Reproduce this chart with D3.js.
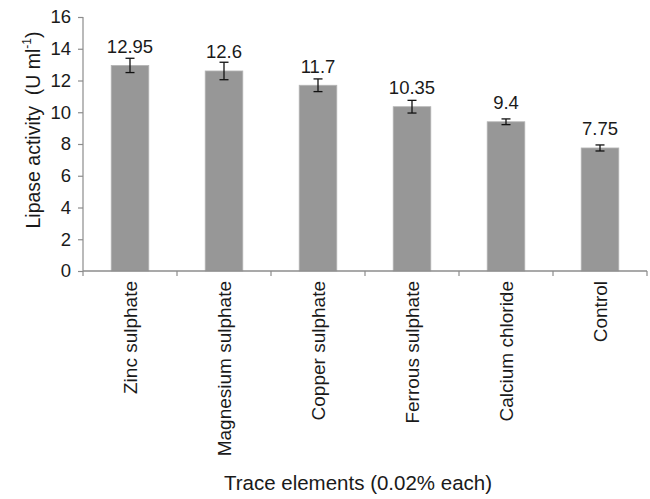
<!DOCTYPE html>
<html><head><meta charset="utf-8">
<script src="https://cdn.jsdelivr.net/npm/d3@7"></script>
<style>
body{margin:0;background:#fff;}
text{font-family:"Liberation Sans",Arial,Helvetica,sans-serif;fill:#1a1a1a;}
</style></head>
<body><svg id="c" width="650" height="499"></svg>
<script>
const categories = ["Zinc sulphate","Magnesium sulphate","Copper sulphate","Ferrous sulphate","Calcium chloride","Control"];
const values = [12.95, 12.6, 11.7, 10.35, 9.4, 7.75];
const errors = [0.45, 0.55, 0.4, 0.4, 0.18, 0.19];
const valueLabels = ["12.95","12.6","11.7","10.35","9.4","7.75"];
const yTicks = [0,2,4,6,8,10,12,14,16];

const svg = d3.select("#c");
const fs = 18.5;
const x = d3.scaleBand().domain(categories).range([83, 647]).paddingInner(0).paddingOuter(0);
const y = d3.scaleLinear().domain([0,16]).range([271, 17]);
const barW = x.bandwidth()*0.4;
const axisColor = "#8c8c8c";

// bars
svg.selectAll("rect.bar").data(categories).join("rect")
  .attr("x", d => x(d) + x.bandwidth()/2 - barW/2)
  .attr("y", (d,i) => y(values[i]))
  .attr("width", barW)
  .attr("height", (d,i) => y(0) - y(values[i]))
  .attr("fill", "#979797")
  .attr("stroke", "#b5b5b5").attr("stroke-width", 0.8);

// error bars
const eb = svg.append("g").attr("stroke", "#111").attr("stroke-width", 1.3);
categories.forEach((c,i) => {
  const cx = x(c) + x.bandwidth()/2;
  const y1 = y(values[i]+errors[i]), y2 = y(values[i]-errors[i]);
  eb.append("line").attr("x1",cx).attr("x2",cx).attr("y1",y1).attr("y2",y2);
  eb.append("line").attr("x1",cx-4.5).attr("x2",cx+4.5).attr("y1",y1).attr("y2",y1);
  eb.append("line").attr("x1",cx-4.5).attr("x2",cx+4.5).attr("y1",y2).attr("y2",y2);
});

// value labels
svg.selectAll("text.val").data(categories).join("text")
  .attr("x", d => x(d) + x.bandwidth()/2)
  .attr("y", (d,i) => y(values[i]) - 12.5)
  .attr("text-anchor","middle").attr("font-size", fs)
  .text((d,i) => valueLabels[i]);

// y axis
const yAxis = svg.append("g").attr("transform","translate(83,0)")
  .call(d3.axisLeft(y).tickValues(yTicks).tickSize(5).tickPadding(7).tickFormat(d3.format("d")));
yAxis.selectAll("path,line").attr("stroke", axisColor).attr("stroke-width",1.2);
yAxis.select(".domain").attr("d","M0,"+y(16)+"V"+y(0));
yAxis.selectAll("text").attr("font-size", 18.5).attr("font-family","Liberation Sans, Arial, sans-serif").attr("fill","#1a1a1a");

// x axis
const xAxis = svg.append("g").attr("transform","translate(0,"+y(0)+")")
  .call(d3.axisBottom(x).tickSize(0).tickFormat(""));
xAxis.select(".domain").attr("d","M83,0H647").attr("stroke",axisColor).attr("stroke-width",1.6);
xAxis.selectAll(".tick").remove();
const bounds = categories.map(c => x(c)).concat([x(categories[categories.length-1]) + x.bandwidth()]);
svg.append("g").selectAll("line").data(bounds).join("line")
  .attr("x1", d=>d).attr("x2", d=>d).attr("y1", y(0)).attr("y2", y(0)+5)
  .attr("stroke", axisColor).attr("stroke-width",1.2);

// category labels
svg.selectAll("text.cat").data(categories).join("text")
  .attr("transform", d => `translate(${x(d)+x.bandwidth()/2},${y(0)+10}) rotate(-90)`)
  .attr("text-anchor","end").attr("dy","0.35em").attr("font-size", 19)
  .text(d => d);

// y title
const yt = svg.append("text")
  .attr("transform","translate(33,130) rotate(-90)")
  .attr("text-anchor","middle").attr("font-size", 19.5).attr("dy","0.35em")
  .style("white-space","pre");
yt.append("tspan").text("Lipase activity  (U ml");
yt.append("tspan").attr("font-size", 12).attr("dy","-0.7em").text("-1");
yt.append("tspan").attr("dy","0.45em").text(")");

// x title
svg.append("text").attr("x", 358).attr("y", 490).attr("text-anchor","middle")
  .attr("font-size", 20.5).text("Trace elements (0.02% each)");
</script></body></html>
